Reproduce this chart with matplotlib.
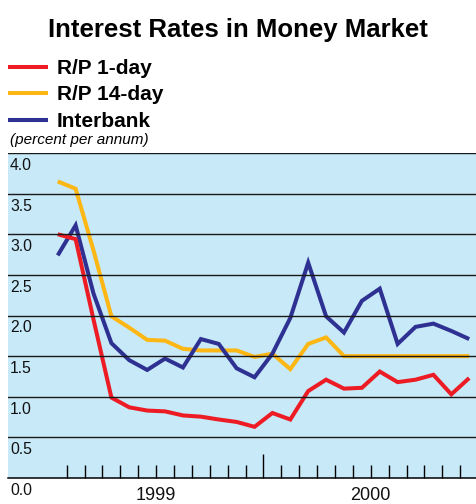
import numpy as np
import matplotlib
matplotlib.use("Agg")
import matplotlib.pyplot as plt
from matplotlib.transforms import ScaledTranslation, blended_transform_factory

plt.rcParams['font.family'] = ['Liberation Sans', 'DejaVu Sans']

# ---- data ----
months = ['Jan-99', 'Feb-99', 'Mar-99', 'Apr-99', 'May-99', 'Jun-99',
          'Jul-99', 'Aug-99', 'Sep-99', 'Oct-99', 'Nov-99', 'Dec-99',
          'Jan-00', 'Feb-00', 'Mar-00', 'Apr-00', 'May-00', 'Jun-00',
          'Jul-00', 'Aug-00', 'Sep-00', 'Oct-00', 'Nov-00', 'Dec-00']
rp_1day = [3.00, 2.94, 1.95, 0.99, 0.87, 0.83, 0.82, 0.77, 0.755, 0.72, 0.69, 0.63,
           0.80, 0.72, 1.07, 1.21, 1.10, 1.11, 1.31, 1.18, 1.21, 1.27, 1.03, 1.23]
rp_14day = [3.65, 3.56, 2.80, 1.99, 1.85, 1.70, 1.69, 1.59, 1.57, 1.57, 1.57, 1.49,
            1.53, 1.34, 1.65, 1.73, 1.50, 1.50, 1.50, 1.50, 1.50, 1.50, 1.50, 1.50]
interbank = [2.74, 3.11, 2.27, 1.66, 1.45, 1.33, 1.47, 1.36, 1.71, 1.65, 1.35, 1.24,
             1.53, 1.97, 2.65, 1.99, 1.79, 2.18, 2.33, 1.65, 1.86, 1.90, 1.81, 1.71]
series_names = ['R/P 1-day', 'R/P 14-day', 'Interbank']
y_ticks = [0.0, 0.5, 1.0, 1.5, 2.0, 2.5, 3.0, 3.5, 4.0]
year_labels = ['1999', '2000']

RED = '#ED1C24'
YEL = '#FDB714'
BLU = '#2E3192'
BG = '#C7E9F8'

W, H = 476, 504
fig = plt.figure(figsize=(W / 100, H / 100), dpi=100)
ax = fig.add_axes([8 / W, 26 / H, 468 / W, 325 / H])
ax.set_facecolor(BG)

x = np.arange(len(months)) + 0.5
lw = 2.9
ax.plot(x, rp_14day, color=YEL, lw=lw, solid_joinstyle='miter', solid_capstyle='butt', zorder=2)
ax.plot(x, interbank, color=BLU, lw=lw, solid_joinstyle='miter', solid_capstyle='butt', zorder=3)
ax.plot(x, rp_1day, color=RED, lw=lw, solid_joinstyle='miter', solid_capstyle='butt', zorder=4)

ax.set_ylim(0, 4.0)
ax.set_xlim(-2.28, 23.88)

# gridlines on top
for yv in y_ticks[1:]:
    ax.axhline(yv, color='#1a1a1a', lw=1.0, zorder=6)

for s in ['left', 'right', 'top']:
    ax.spines[s].set_visible(False)
ax.spines['bottom'].set_color('black')
ax.spines['bottom'].set_linewidth(1.1)
ax.spines['bottom'].set_zorder(7)

ax.set_yticks([])
ax.set_xticks([12])
ax.set_xticks([m for m in range(1, 24) if m != 12], minor=True)
ax.tick_params(axis='x', which='major', direction='in', length=17.3, width=1.0,
               color='black', labelbottom=False, top=False)
ax.tick_params(axis='x', which='minor', direction='in', length=9.4, width=1.0,
               color='black', top=False)

# y labels below gridlines
trans_y = blended_transform_factory(ax.transAxes, ax.transData) + \
    ScaledTranslation(0, -17 / 100, fig.dpi_scale_trans)
for yv in y_ticks:
    ax.text(2 / 468, yv, f'{yv:.1f}', transform=trans_y, fontsize=11.3,
            ha='left', va='baseline', color='#111111', clip_on=False, zorder=8)

# year labels
trans_x = blended_transform_factory(ax.transData, ax.transAxes) + \
    ScaledTranslation(0, -22.5 / 100, fig.dpi_scale_trans)
for i, lab in enumerate(year_labels):
    ax.text(6 + 12 * i, 0, lab, transform=trans_x, fontsize=13,
            ha='center', va='baseline', color='#111111', clip_on=False)

# title
fig.text(238 / W, 1 - 36.7 / H, 'Interest Rates in Money Market', fontsize=18.5,
         fontweight='bold', ha='center', va='baseline')

# legend
leg_y = [66.7, 92.7, 120.0]
leg_base = [74.0, 100.0, 127.3]
cols = [RED, YEL, BLU]
for name, c, ly, lb in zip(series_names, cols, leg_y, leg_base):
    fig.add_artist(plt.Line2D([8.3 / W, 48.3 / W], [1 - ly / H, 1 - ly / H],
                              color=c, lw=lw, solid_capstyle='butt'))
    fig.text(57 / W, 1 - lb / H, name, fontsize=15, fontweight='bold',
             ha='left', va='baseline')
fig.text(9.5 / W, 1 - 144 / H, '(percent per annum)', fontsize=11, style='italic',
         ha='left', va='baseline')

fig.savefig('out.png', dpi=100)
